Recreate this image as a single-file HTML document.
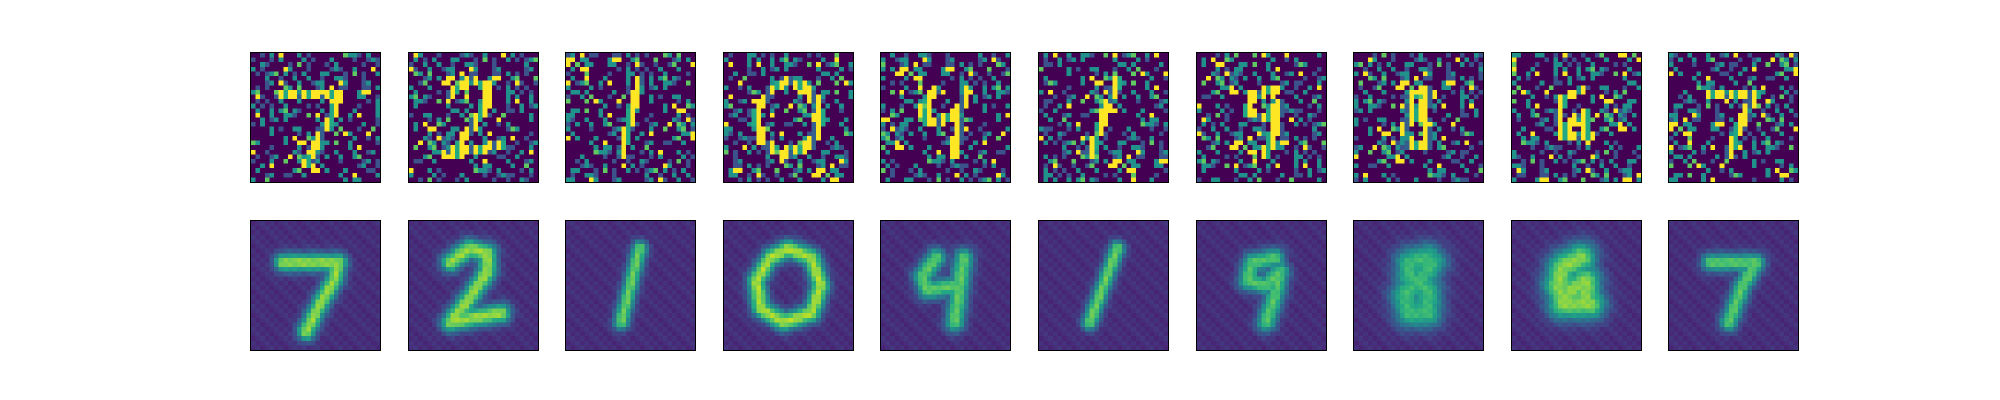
<!DOCTYPE html>
<html><head><meta charset="utf-8"><style>
body{margin:0;background:#fff;width:2000px;height:400px;overflow:hidden;position:relative}
canvas{position:absolute;width:131px;height:131px;image-rendering:pixelated;border:1px solid #000;box-sizing:border-box}
</style></head><body>
<div id="fig"></div>
<script>
const digitLabels=["7","2","1","0","4","1","4","9","5","9"];
const strokes=[
[[7,9],[19,9],[18,13],[15,18],[12,24]],
[[9,9],[13,6],[17,7],[17,11],[13,17],[9,22],[14,21],[20,20]],
[[16,6],[14,14],[12,22]],
[[14,6],[19,8],[21,14],[19,20],[13,22],[8,19],[7,13],[10,8],[14,6]],
[[12,8],[9,12],[10,15],[17,14],[18,8],[17,15],[16,22]],
[[17,6],[14,14],[11,22]],
[[17,8],[12,9],[11,13],[15,14],[18,11],[17,16],[15,22]],
[[16,8],[12,9],[12,12],[16,15],[16,20],[12,20],[11,16],[15,12],[17,9]],
[[15,8],[11,10],[10,14],[12,18],[16,18],[16,13],[13,15],[11,18],[17,18]],
[[9,9],[19,9],[16,14],[13,22]]
];
const blurWidth=[1.4,1.5,1.2,1.4,1.5,1.2,1.5,2.3,2.4,1.4];
const peak=[0.72,0.72,0.65,0.75,0.62,0.65,0.6,0.55,0.7,0.62];
const noiseRows=[
"0010204000201000000032210200","1000102000020100020000100121","0021000010301000102000001001",
"2010000420001000012100200040","0101230201020002200010301002","0002001002002001002210001000",
"0001204100200122000420001200","0101000320300012040110001102","2300030001202044022000024400",
"0410010013000440302200022001","0101002000200002044000000102","2010100200001010003000010002",
"0200202302100002004000200002","0400200221003040123002040002","0020120200000020000201000001",
"1020000000000002202000002001","0000201002200010020300010030","0000200000102030003042000400",
"0000000204003200000000200102","3200000200440002203002000001","0000100000201022000002040000",
"4001000002104121002000200120","0100120040320210200200230000","1000200300230120000100001201",
"0020400000022402000000012001","0200000002300440200020000110","0001200110020000000200400002",
"2003000000000000000020220000"];
const noiseOffset=[0,3,7,11,5,13,17,2,9,21];
const stops=[[68,1,84],[72,36,117],[65,68,135],[53,95,141],[42,120,142],[33,145,140],[34,168,132],[68,191,112],[122,209,81],[189,223,38],[253,231,37]];
const lev=[0,0.25,0.5,0.75,1];
function vir(t){t=Math.max(0,Math.min(1,t));const f=t*10,i=Math.min(9,Math.floor(f)),r=f-i,a=stops[i],b=stops[i+1];
return `rgb(${a.map((v,k)=>Math.round(v+(b[k]-v)*r)).join(',')})`;}
function dist(x,y,s){let m=1e9;for(let i=0;i<s.length-1;i++){const[a,b]=s[i],[c,d]=s[i+1];const dx=c-a,dy=d-b;
let t=((x-a)*dx+(y-b)*dy)/(dx*dx+dy*dy);t=Math.max(0,Math.min(1,t));const ex=a+t*dx-x,ey=b+t*dy-y;m=Math.min(m,Math.hypot(ex,ey));}return m;}
const fig=document.getElementById('fig');
const step=157.6;
for(let p=0;p<10;p++){
 for(let row=0;row<2;row++){
  const c=document.createElement('canvas');c.width=28;c.height=28;
  
  
  c.style.left=(250+p*step)+'px';c.style.top=(row?220:52)+'px';
  const g=c.getContext('2d');
  for(let y=0;y<28;y++)for(let x=0;x<28;x++){
   const d=dist(x+0.5,y+0.5,strokes[p]);let v;
   if(row===0){const ch=noiseRows[(y+noiseOffset[p])%28][(x+noiseOffset[p]*2)%28];v=lev[+ch];
     if(d<1.0){const k=(x*3+y*5+p)%5;v=Math.max(v,k===0?0.3:(k===1?0.6:1));}}
   else{const s=blurWidth[p];v=0.1+((x*7+y*13+p)%5)*0.015+peak[p]*Math.exp(-d*d/(2*s*s));}
   g.fillStyle=vir(v);g.fillRect(x,y,1,1);
  }
  fig.appendChild(c);
 }
}
</script></body></html>
